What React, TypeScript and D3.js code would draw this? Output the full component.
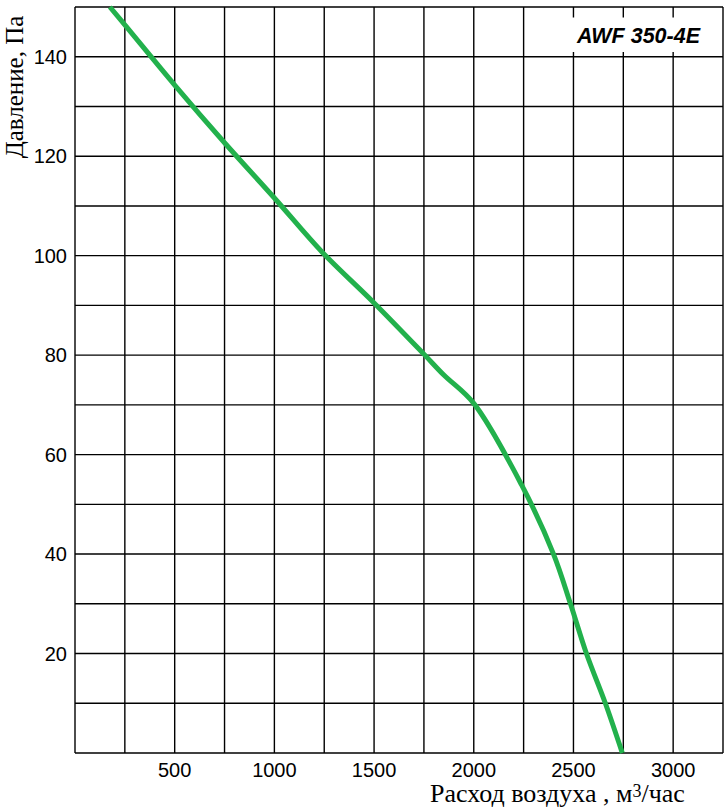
import React from "react";
import * as d3 from "d3";

const flow = [175, 250, 500, 750, 1000, 1240, 1500, 1750, 1850, 2000, 2240, 2400, 2485, 2565, 2660, 2745];
const pressure = [150, 146.4, 134.3, 122.7, 111.6, 100.7, 90.5, 80.2, 76, 70.3, 53.9, 40, 30, 20, 10, 0];
const xTickLabels = [500, 1000, 1500, 2000, 2500, 3000];
const yTickLabels = [20, 40, 60, 80, 100, 120, 140];
const xGrid = d3.range(0, 3251, 250);
const yGrid = d3.range(0, 151, 10);
const modelLabel = "AWF 350-4E";
const yTitle = "Давление, Па";

export default function App() {
  const W = 725, H = 810;
  const x = d3.scaleLinear().domain([0, 3250]).range([75, 723]);
  const y = d3.scaleLinear().domain([0, 150]).range([753, 7]);
  const pts = flow.map((f, i) => [f, pressure[i]] as [number, number]);
  const line = d3.line<[number, number]>().x(d => x(d[0])).y(d => y(d[1])).curve(d3.curveCatmullRom.alpha(0.5));
  const sans = "'Liberation Sans', Arial, sans-serif";
  const serif = "'Liberation Serif', 'Times New Roman', serif";
  return (
    <svg width={W} height={H} style={{ position: "absolute", left: 0, top: 0, background: "#fff" }}>
      <rect x={0} y={0} width={W} height={H} fill="#fff" />
      {xGrid.map(v => (
        <line key={"x" + v} x1={x(v)} x2={x(v)} y1={y(0)} y2={y(150)} stroke="#000" strokeWidth={1.4} />
      ))}
      {yGrid.map(v => (
        <line key={"y" + v} x1={x(0)} x2={x(3250)} y1={y(v)} y2={y(v)} stroke="#000" strokeWidth={1.4} />
      ))}
      <rect x={560} y={17.5} width={158} height={34.5} fill="#fff" />
      <text x={638.5} y={43} textAnchor="middle" fontFamily={sans} fontWeight="bold" fontStyle="italic" fontSize={21.5}>{modelLabel}</text>
      <path d={line(pts) || ""} fill="none" stroke="#22b14c" strokeWidth={5} strokeLinejoin="round" />
      {xTickLabels.map(v => (
        <text key={"xl" + v} x={x(v)} y={777} textAnchor="middle" fontFamily={sans} fontSize={20}>{v}</text>
      ))}
      {yTickLabels.map(v => (
        <text key={"yl" + v} x={67} y={y(v) + 7} textAnchor="end" fontFamily={sans} fontSize={20}>{v}</text>
      ))}
      <text transform="translate(22.5,87) rotate(-90)" textAnchor="middle" fontFamily={serif} fontSize={25}>{yTitle}</text>
      <text x={430} y={802} fontFamily={serif} fontSize={26}>
        Расход воздуха , м<tspan fontSize={18} dy={-5}>3</tspan><tspan dy={5}>/час</tspan>
      </text>
    </svg>
  );
}
